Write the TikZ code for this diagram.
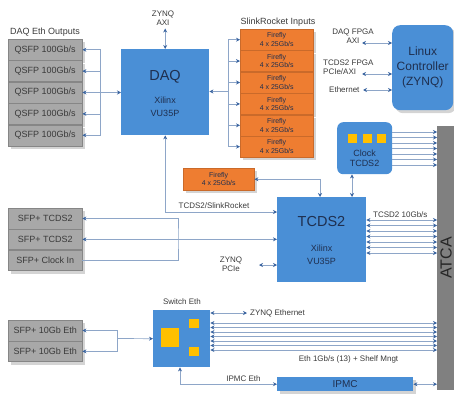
\documentclass[tikz,border=0pt]{standalone}
\usepackage{fontspec}
\setmainfont{Liberation Sans}
\usepackage{tikz}
\usetikzlibrary{positioning,arrows.meta,calc,shadows}
\definecolor{blue}{HTML}{4A8FD6}
\definecolor{orange}{HTML}{EE7D31}
\definecolor{portgray}{HTML}{A8A8A8}
\definecolor{shade}{HTML}{D4D4D4}
\definecolor{atcagray}{HTML}{808080}
\definecolor{chip}{HTML}{FFC000}
\definecolor{linkc}{HTML}{8EA6C8}
\definecolor{tipc}{HTML}{3A64A0}
\definecolor{ink}{HTML}{1F2F4F}
\definecolor{note}{HTML}{3A3A3A}

\begin{document}
\begin{tikzpicture}[
    x=1pt, y=-1pt,
    dshadow/.style={drop shadow={shadow xshift=3pt, shadow yshift=-3pt, fill=shade, opacity=1}},
    port/.style={draw=portgray!80!black, line width=0.4pt, fill=portgray, minimum width=74pt, minimum height=21pt, inner sep=0pt, text=note, font=\fontsize{9}{10}\selectfont, dshadow},
    ff/.style={draw=orange!85!black, line width=0.4pt, fill=orange, minimum width=73pt, minimum height=21pt, inner sep=0pt, align=center, text=ink, font=\fontsize{7}{8.5}\selectfont, dshadow},
    fpga/.style={fill=blue, inner sep=0pt, text=ink, align=center},
    chipsq/.style={fill=chip, inner sep=0pt},
    lbl/.style={inner sep=1pt, align=center, text=note, font=\fontsize{8}{9}\selectfont},
    big/.style={inner sep=0pt, text=ink, font=\fontsize{14.5}{16}\selectfont},
    small/.style={inner sep=0pt, text=ink, align=center, font=\fontsize{9}{12.5}\selectfont},
    link/.style={draw=linkc, line width=0.7pt},
    arr/.style={link, -{Stealth[length=4pt, width=4pt, color=tipc]}},
    darr/.style={link, {Stealth[length=4pt, width=4pt, color=tipc]}-{Stealth[length=4pt, width=4pt, color=tipc]}}
  ]
    \useasboundingbox (0,0) rectangle (454,396);

    % DAQ and its links
    \node[lbl, font=\fontsize{9}{10}\selectfont] (qtitle) at (45,32) {DAQ Eth Outputs};
    \node[port, anchor=north west] (q1) at (8,39) {QSFP 100Gb/s};
    \foreach \i [count=\j] in {2,...,5}
      \node[port, below=0pt of q\j] (q\i) {QSFP 100Gb/s};

    \node[fpga, minimum width=88pt, minimum height=86pt, anchor=north west] (daq) at (121,49) {};
    \node[big] (daqname) at (165,77) {DAQ};
    \node[small] (daqchip) at (165,107) {Xilinx\\VU35P};

    \node[ff, anchor=north west] (f1) at (240,29) {Firefly\\4 x 25Gb/s};
    \foreach \i [count=\j] in {2,...,6}
      \node[ff, below=0pt of f\j] (f\i) {Firefly\\4 x 25Gb/s};
    \node[lbl, font=\fontsize{9}{10}\selectfont] (ftitle) at (278,22.5) {SlinkRocket Inputs};

    \coordinate[right=18pt of q3.east] (qbus);
    \draw[darr] (q3.east) -- (q3.east -| daq.west);
    \foreach \i in {1,2,4,5}
      \draw[arr] (qbus) |- (q\i.east);
    \coordinate (fbus) at (228,91.5);
    \draw[arr] (fbus) -- (fbus -| daq.east);
    \foreach \i in {1,...,6}
      \draw[arr] (fbus) |- (f\i.west);

    \node[lbl] (zaxi) at (163,18) {ZYNQ\\AXI};
    \draw[darr, shorten >=2pt] (daq.north) -- (daq.north |- zaxi.south);

    % Linux controller
    \node[lbl] (daqaxi) at (353,36) {DAQ FPGA\\AXI};
    \node[lbl, align=left, anchor=west] (tcdsaxi) at (322,67) {TCDS2 FPGA\\PCIe/AXI};
    \node[lbl, anchor=west] (ethz) at (328,90) {Ethernet};
    \node[fpga, rounded corners=8pt, minimum width=61pt, minimum height=85pt, anchor=north west, font=\fontsize{12}{15}\selectfont, dshadow] (linux) at (392,25) {Linux\\Controller\\(ZYNQ)};
    \coordinate (l1) at (362,43);
    \coordinate (l2) at (362,74);
    \coordinate (l3) at (363,90);
    \foreach \c in {l1,l2,l3}
      \draw[darr] (\c) -- (\c -| linux.west);

    % clock, TCDS2 and backplane
    \node[fpga, rounded corners=6pt, minimum width=55pt, minimum height=52pt, anchor=north west] (clk) at (337,122) {};
    \node[chipsq, minimum size=9pt] (ck1) at (352,138) {};
    \node[chipsq, minimum size=9pt] (ck2) at (367,138) {};
    \node[chipsq, minimum size=9pt] (ck3) at (381,138) {};
    \node[small, font=\fontsize{9}{10}\selectfont] (clkname) at (364.5,158) {Clock\\TCDS2};

    \node[fill=atcagray, minimum width=17pt, minimum height=264pt, inner sep=0pt, anchor=north west] (atca) at (437,126) {};
    \node[rotate=90, inner sep=0pt, text=black!85, font=\fontsize{16}{16}\selectfont] (atcaname) at (446,258) {ATCA};

    \foreach \y in {132,137.5,...,165}
      \draw[arr] (clk.east |- 0,\y) -- (atca.west |- 0,\y);

    \node[fpga, minimum width=89pt, minimum height=85pt, anchor=north west] (tcds) at (277,197) {};
    \node[big] (tcdsname) at (321.5,222) {TCDS2};
    \node[small] (tcdschip) at (321.5,255) {Xilinx\\VU35P};
    \node[lbl, anchor=west] (tcdsrate) at (372,214.5) {TCSD2 10Gb/s};
    \foreach \y in {220,225.5,...,253}
      \draw[darr] (tcds.east |- 0,\y) -- (atca.west |- 0,\y);
    \draw[darr] (clk.south -| 352,0) -- (tcds.north -| 352,0);

    \node[ff, minimum width=71pt, minimum height=22pt, anchor=north west] (f7) at (183,168) {Firefly\\4 x 25Gb/s};
    \draw[darr] (f7.east) -| (tcds.north -| 320,0);

    \draw[darr] (daq.south) |- (tcds.west |- 0,212);
    \node[lbl] (slink) at (214,206) {TCDS2/SlinkRocket};

    \node[port, minimum height=20.5pt, anchor=north west] (s1) at (8,208) {SFP+ TCDS2};
    \node[port, minimum height=20.5pt, below=0pt of s1] (s2) {SFP+ TCDS2};
    \node[port, minimum height=20.5pt, below=0pt of s2] (s3) {SFP+ Clock In};
    \draw[arr] (s3.east) -| (178,238) |- (s1.east);
    \draw[darr] (s2.east) -- (s2.east -| tcds.west);

    \node[lbl] (zpcie) at (231,264) {ZYNQ\\PCIe};
    \coordinate (pcie) at (259,265);
    \draw[darr] (pcie) -- (pcie -| tcds.west);

    % Ethernet switch and IPMC
    \node[lbl] (swname) at (182,302) {Switch Eth};
    \node[fpga, minimum size=57pt, anchor=north west] (sw) at (153,310) {};
    \node[chipsq, minimum size=18.5pt] (sw1) at (170,337.5) {};
    \node[chipsq, minimum width=10pt, minimum height=9pt] (sw2) at (194,323) {};
    \node[chipsq, minimum width=10pt, minimum height=9pt] (sw3) at (194,351.5) {};

    \node[port, minimum height=20.5pt, anchor=north west] (e1) at (8,320) {SFP+ 10Gb Eth};
    \node[port, minimum height=20.5pt, below=0pt of e1] (e2) {SFP+ 10Gb Eth};
    \coordinate (ebus) at (117,338.5);
    \draw[arr] (ebus) -- (sw.west);
    \foreach \i in {1,2}
      \draw[arr] (ebus) |- (e\i.east);

    \coordinate (zeth) at (247,313);
    \draw[darr] (zeth -| sw.east) -- (zeth);
    \node[lbl, anchor=west] (zethname) at (249,313) {ZYNQ Ethernet};
    \foreach \y in {323,327.5,...,350}
      \draw[darr] (sw.east |- 0,\y) -- (atca.west |- 0,\y);
    \node[lbl] (ethname) at (348.5,359) {Eth 1Gb/s (13) + Shelf Mngt};

    \node[fpga, minimum width=136pt, minimum height=14pt, anchor=north west, font=\fontsize{10}{10}\selectfont, dshadow] (ipmc) at (277,377) {IPMC};
    \draw[darr] (sw.south -| 180,0) |- (ipmc.west);
    \node[lbl] (ipmcname) at (243.5,378.5) {IPMC Eth};
    \draw[darr] (ipmc.east) -- (ipmc.east -| atca.west);
  \end{tikzpicture}
\end{document}
